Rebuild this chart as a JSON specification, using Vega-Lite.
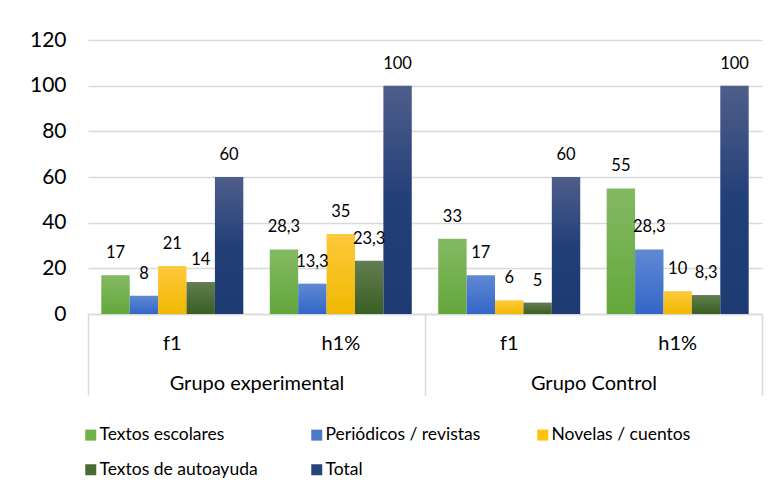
{
  "$schema": "https://vega.github.io/schema/vega-lite/v6.json",
  "width": 674,
  "height": 274,
  "autosize": {"type": "none"},
  "padding": {"left": 88, "top": 40, "right": 15, "bottom": 179},
  "background": "white",
  "config": {
    "font": "Lato",
    "view": {"stroke": null},
    "locale": {"number": {"decimal": ",", "thousands": ".", "grouping": [3], "currency": ["", " €"]}}
  },
  "data": {
    "values": [
      {"grupo": "Grupo experimental", "medida": "f1", "serie": "Textos escolares", "valor": 17},
      {"grupo": "Grupo experimental", "medida": "f1", "serie": "Periódicos / revistas", "valor": 8},
      {"grupo": "Grupo experimental", "medida": "f1", "serie": "Novelas / cuentos", "valor": 21},
      {"grupo": "Grupo experimental", "medida": "f1", "serie": "Textos de autoayuda", "valor": 14},
      {"grupo": "Grupo experimental", "medida": "f1", "serie": "Total", "valor": 60},
      {"grupo": "Grupo experimental", "medida": "h1%", "serie": "Textos escolares", "valor": 28.3},
      {"grupo": "Grupo experimental", "medida": "h1%", "serie": "Periódicos / revistas", "valor": 13.3},
      {"grupo": "Grupo experimental", "medida": "h1%", "serie": "Novelas / cuentos", "valor": 35},
      {"grupo": "Grupo experimental", "medida": "h1%", "serie": "Textos de autoayuda", "valor": 23.3},
      {"grupo": "Grupo experimental", "medida": "h1%", "serie": "Total", "valor": 100},
      {"grupo": "Grupo Control", "medida": "f1", "serie": "Textos escolares", "valor": 33},
      {"grupo": "Grupo Control", "medida": "f1", "serie": "Periódicos / revistas", "valor": 17},
      {"grupo": "Grupo Control", "medida": "f1", "serie": "Novelas / cuentos", "valor": 6},
      {"grupo": "Grupo Control", "medida": "f1", "serie": "Textos de autoayuda", "valor": 5},
      {"grupo": "Grupo Control", "medida": "f1", "serie": "Total", "valor": 60},
      {"grupo": "Grupo Control", "medida": "h1%", "serie": "Textos escolares", "valor": 55},
      {"grupo": "Grupo Control", "medida": "h1%", "serie": "Periódicos / revistas", "valor": 28.3},
      {"grupo": "Grupo Control", "medida": "h1%", "serie": "Novelas / cuentos", "valor": 10},
      {"grupo": "Grupo Control", "medida": "h1%", "serie": "Textos de autoayuda", "valor": 8.3},
      {"grupo": "Grupo Control", "medida": "h1%", "serie": "Total", "valor": 100}
    ]
  },
  "transform": [{"calculate": "datum.grupo + '|' + datum.medida", "as": "clave"}],
  "layer": [
    {
      "encoding": {
        "x": {
          "field": "clave", "type": "nominal", "sort": null,
          "scale": {"paddingInner": 0.157, "paddingOuter": 0.079},
          "axis": {
            "orient": "bottom", "title": null, "labelExpr": "split(datum.label, '|')[1]",
            "labelAngle": 0, "ticks": false, "tickSize": 0, "domain": true,
            "domainColor": "#d9d9d9", "domainWidth": 1.5, "labelPadding": 19,
            "labelFontSize": 20, "labelColor": "#000000", "labelFont": "Lato", "grid": false
          }
        },
        "xOffset": {
          "field": "serie", "type": "nominal",
          "scale": {"domain": ["Textos escolares", "Periódicos / revistas", "Novelas / cuentos", "Textos de autoayuda", "Total"], "paddingInner": 0, "paddingOuter": 0}
        },
        "y": {
          "field": "valor", "type": "quantitative",
          "scale": {"domain": [0, 120], "nice": false},
          "axis": {
            "title": null, "values": [0, 20, 40, 60, 80, 100, 120], "domain": false, "ticks": false,
            "grid": true, "gridColor": "#d9d9d9", "gridWidth": 1.5, "labelPadding": 22,
            "labelFontSize": 21, "labelColor": "#000000", "labelFont": "Lato"
          }
        }
      },
      "layer": [
        {
          "mark": {"type": "bar", "opacity": 0},
          "encoding": {
            "color": {
              "field": "serie", "type": "nominal",
              "scale": {
                "domain": ["Textos escolares", "Periódicos / revistas", "Novelas / cuentos", "Textos de autoayuda", "Total"],
                "range": ["#72b04a", "#4a78cc", "#ffc20e", "#4a6b35", "#2a4478"]
              },
              "legend": {
                "title": null, "orient": "none", "legendX": -6, "legendY": 386,
                "direction": "horizontal", "columns": 3, "gridAlign": "all", "symbolType": "square",
                "symbolSize": 121, "symbolStrokeWidth": 0, "symbolOpacity": 1, "labelFontSize": 17.5,
                "labelFont": "Lato", "labelColor": "#000000", "columnPadding": 50, "rowPadding": 16,
                "labelOffset": 0
              }
            }
          }
        },
        {
          "mark": {"type": "bar"},
          "encoding": {
            "fill": {
              "condition": [
                {"test": "datum.serie === 'Textos escolares'", "value": {"gradient": "linear", "x1": 0, "y1": 0, "x2": 0, "y2": 1, "stops": [{"offset": 0, "color": "#84b964"}, {"offset": 1, "color": "#63a73a"}]}},
                {"test": "datum.serie === 'Periódicos / revistas'", "value": {"gradient": "linear", "x1": 0, "y1": 0, "x2": 0, "y2": 1, "stops": [{"offset": 0, "color": "#6189d3"}, {"offset": 1, "color": "#3266c8"}]}},
                {"test": "datum.serie === 'Novelas / cuentos'", "value": {"gradient": "linear", "x1": 0, "y1": 0, "x2": 0, "y2": 1, "stops": [{"offset": 0, "color": "#ffc93c"}, {"offset": 1, "color": "#f0b800"}]}},
                {"test": "datum.serie === 'Textos de autoayuda'", "value": {"gradient": "linear", "x1": 0, "y1": 0, "x2": 0, "y2": 1, "stops": [{"offset": 0, "color": "#627e50"}, {"offset": 1, "color": "#3a5e22"}]}}
              ],
              "value": {"gradient": "linear", "x1": 0, "y1": 0, "x2": 0, "y2": 1, "stops": [{"offset": 0, "color": "#4f5e8b"}, {"offset": 0.5, "color": "#233f78"}, {"offset": 1, "color": "#1e3a72"}]}
            }
          }
        },
        {
          "mark": {"type": "text", "dy": -22, "baseline": "middle", "fontSize": 16.5, "color": "#000000"},
          "encoding": {
            "text": {"field": "valor", "type": "quantitative", "format": ".1~f"}
          }
        }
      ]
    },
    {
      "mark": {"type": "text", "opacity": 0},
      "encoding": {
        "text": {"value": ""},
        "x": {
          "field": "grupo", "type": "nominal", "sort": null,
          "scale": {"paddingInner": 0, "paddingOuter": 0},
          "axis": {
            "orient": "bottom", "title": null, "labelAngle": 0, "domain": false,
            "ticks": true, "tickBand": "extent", "tickSize": 81, "tickColor": "#d9d9d9",
            "tickWidth": 1.5, "labelPadding": -22, "labelFontSize": 20,
            "labelColor": "#000000", "labelFont": "Lato", "grid": false
          }
        }
      }
    }
  ],
  "resolve": {"scale": {"x": "independent"}, "axis": {"x": "independent"}}
}
